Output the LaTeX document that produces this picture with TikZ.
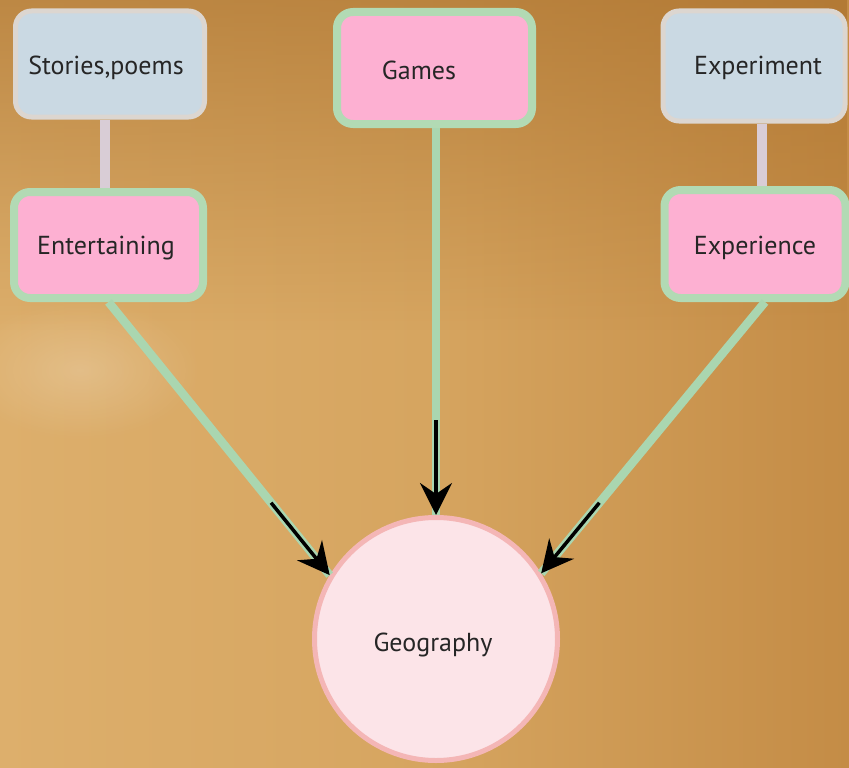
\documentclass[tikz,border=0pt]{standalone}
\usepackage{fontspec}
\setmainfont{PT Sans}
\usetikzlibrary{arrows.meta,calc,fadings}
\definecolor{bgL}{HTML}{DDAF6C}
\definecolor{bgM}{HTML}{D6A560}
\definecolor{bgR}{HTML}{C48C46}
\definecolor{bgTop}{HTML}{A86E2A}
\definecolor{blueFill}{HTML}{CAD9E3}
\definecolor{blueLine}{HTML}{DCD6D0}
\definecolor{pinkFill}{HTML}{FDB0D2}
\definecolor{mint}{HTML}{B2DAB4}
\definecolor{linkGreen}{HTML}{AAD6B0}
\definecolor{linkGray}{HTML}{D9CDD6}
\definecolor{geoFill}{HTML}{FCE4E8}
\definecolor{geoLine}{HTML}{F4B6B6}
\tikzfading[name=fadedown, top color=transparent!40, bottom color=transparent!100]
\tikzfading[name=softspot, inner color=transparent!80, outer color=transparent!100]
\tikzset{
  bluebox/.style={draw=blueLine, line width=5pt, fill=blueFill, rounded corners=16pt, inner sep=0pt},
  pinkbox/.style={draw=mint, line width=8pt, fill=pinkFill, rounded corners=16pt, inner sep=0pt},
  lbl/.style={font=\fontsize{26}{30}\selectfont, text=black!85},
  greenlink/.style={draw=linkGreen, line width=8.5pt},
  graylink/.style={draw=linkGray, line width=10pt},
  blackarrow/.style={draw=black, line width=3.5pt, -{Stealth[length=32pt,width=32pt,inset=11pt]}},
}
\begin{document}
\begin{tikzpicture}[x=1pt,y=-1pt]
\useasboundingbox (0,0) rectangle (849,768);
% background
\shade[left color=bgL, right color=bgR, middle color=bgM] (0,0) rectangle (849,768);
\fill[bgTop, path fading=fadedown] (0,0) rectangle (849,330);
\fill[white, path fading=softspot] (-40,300) rectangle (200,440);
% nodes
\node[bluebox, minimum width=189pt, minimum height=106pt] (stories) at (110,64) {};
\node[lbl] (storiestxt) at (106,68) {Stories,poems};
\node[pinkbox, minimum width=189pt, minimum height=106pt] (ent) at (108.5,245) {};
\node[lbl] (enttxt) at (106,248) {Entertaining};
\node[pinkbox, minimum width=195pt, minimum height=112pt] (games) at (434.5,68) {};
\node[lbl] (gamestxt) at (419,70) {Games};
\node[bluebox, minimum width=182pt, minimum height=110pt] (expt) at (754,66) {};
\node[lbl] (expttxt) at (758,68) {Experiment};
\node[pinkbox, minimum width=181pt, minimum height=108pt] (expc) at (755,244) {};
\node[lbl] (expctxt) at (755,248) {Experience};
\node[circle, draw=geoLine, line width=5pt, fill=geoFill, minimum size=243pt, inner sep=0pt] (geo) at (436,639) {};
\node[lbl] (geotxt) at (433,645) {Geography};
% connectors
\draw[graylink] ([xshift=-5pt]stories.south) -- ([xshift=-3.5pt]ent.north);
\draw[graylink] ([xshift=8pt]expt.south) -- ([xshift=7pt]expc.north);
\coordinate (e1) at ($(ent.south)+(0,0)$);
\coordinate (e2) at ($(expc.south)+(10,0)$);
\coordinate (e3) at ($(games.south)+(1.5,0)$);
\draw[greenlink] (e1) -- (geo.149);
\draw[greenlink] (e3) -- (geo.90);
\draw[greenlink] (e2) -- (geo.32);
\draw[blackarrow] ($(e1)!0.735!(geo.149)$) -- (geo.149);
\draw[blackarrow] ($(e3)!0.755!(geo.90)$) -- (geo.90);
\draw[blackarrow] ($(e2)!0.74!(geo.32)$) -- (geo.32);
\end{tikzpicture}
\end{document}
